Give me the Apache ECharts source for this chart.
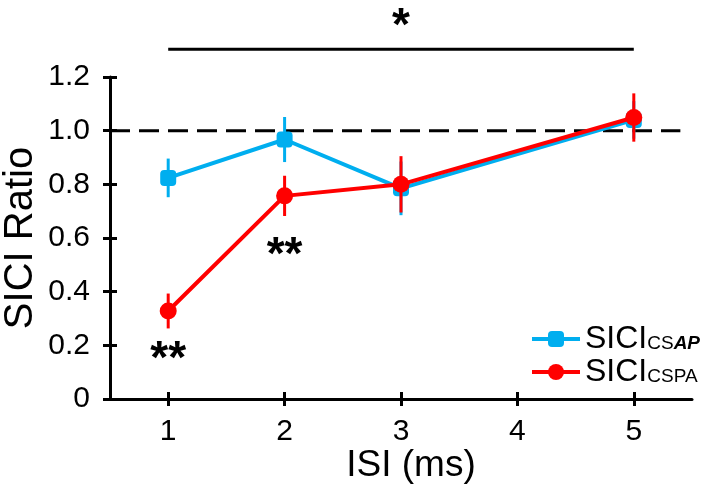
<!DOCTYPE html>
<html>
<head>
<meta charset="utf-8">
<script src="https://cdn.jsdelivr.net/npm/echarts@6/dist/echarts.min.js"></script>
<style>html,body{margin:0;padding:0;background:#fff}#c{width:722px;height:503px}</style>
</head>
<body>
<div id="c"></div>
<script>
// ---- data ----
var isi = [1, 2, 3, 5];
var blueMean = [0.824, 0.967, 0.785, 1.040];
var blueErr  = [0.072, 0.084, 0.100, 0.070];
var redMean  = [0.328, 0.757, 0.800, 1.049];
var redErr   = [0.065, 0.075, 0.105, 0.090];
var xTicks = [1, 2, 3, 4, 5];
var yTicks = [0, 0.2, 0.4, 0.6, 0.8, 1.0, 1.2];
var refLineY = 1.0;
var refLineX = [0.5, 5.4];
var sigBarX = [1, 5];
var sigBarY = 1.3035;
var starX = [1, 2, 3];
var starY = [0.145, 0.533, 1.384];
var starText = ['**', '**', '*'];
var nameBlue = 'SICIcsAP';
var nameRed = 'SICIcsPA';

var FONT = 'Liberation Sans, Arial, Helvetica, sans-serif';
var BLUE = '#00AEEF', RED = '#FF0000';

function pairs(xs, ys) { return xs.map(function (x, i) { return [x, ys[i]]; }); }
function errData(xs, m, e) { return xs.map(function (x, i) { return [x, m[i] - e[i], m[i] + e[i]]; }); }
function errRender(color) {
  return function (params, api) {
    var lo = api.coord([api.value(0), api.value(1)]);
    var hi = api.coord([api.value(0), api.value(2)]);
    return { type: 'line', shape: { x1: lo[0], y1: lo[1], x2: hi[0], y2: hi[1] },
      style: { stroke: color, lineWidth: 3 } };
  };
}

var chart = echarts.init(document.getElementById('c'));
var axisCommonX = { type: 'value', min: 0.5, max: 5.5 };
var axisCommonY = { type: 'value', min: 0, max: 1.2, interval: 0.2 };
chart.setOption({
  animation: false,
  backgroundColor: '#fff',
  grid: { left: 110, right: 30, top: 77, bottom: 104, containLabel: false, outerBoundsMode: 'none' },
  legend: {
    orient: 'vertical', left: 525, top: 318, itemWidth: 48, itemHeight: 20, itemGap: 1,
    data: [nameBlue, nameRed],
    lineStyle: { width: 4 },
    formatter: function (n) { return n === nameBlue ? '{m|SICI}{s|CS}{b|AP}' : '{m|SICI}{s|CSPA}'; },
    textStyle: {
      fontFamily: FONT, color: '#000',
      rich: {
        m: { fontSize: 32, fontFamily: FONT, color: '#000', verticalAlign: 'bottom' },
        s: { fontSize: 19, fontFamily: FONT, color: '#000', verticalAlign: 'bottom', padding: [0, 0, 2, 0] },
        b: { fontSize: 19, fontFamily: FONT, color: '#000', fontWeight: 'bold', fontStyle: 'italic', verticalAlign: 'bottom', padding: [0, 0, 2, 0] }
      }
    }
  },
  xAxis: [
    Object.assign({}, axisCommonX, {
      name: 'ISI (ms)', nameLocation: 'middle', nameGap: 48, nameMoveOverlap: false,
      nameTextStyle: { fontFamily: FONT, fontSize: 37, color: '#000', padding: [0, 0, 0, 20] },
      axisLine: { lineStyle: { color: '#000', width: 3 } },
      axisTick: { show: true, length: 7, lineStyle: { color: '#000', width: 3 }, customValues: xTicks },
      axisLabel: { fontFamily: FONT, fontSize: 30, color: '#000', margin: 18, customValues: xTicks },
      splitLine: { show: false }
    }),
    Object.assign({}, axisCommonX, {
      position: 'bottom',
      axisLine: { show: false },
      axisTick: { show: true, inside: true, length: 7, lineStyle: { color: '#000', width: 3 }, customValues: xTicks },
      axisLabel: { show: false }, splitLine: { show: false }
    })
  ],
  yAxis: [
    Object.assign({}, axisCommonY, {
      name: 'SICI Ratio', nameLocation: 'middle', nameGap: 69, nameRotate: 90, nameMoveOverlap: false,
      nameTextStyle: { fontFamily: FONT, fontSize: 40, color: '#000' },
      axisLine: { show: true, lineStyle: { color: '#000', width: 3 } },
      axisTick: { show: true, length: 7, lineStyle: { color: '#000', width: 3 } },
      axisLabel: { fontFamily: FONT, fontSize: 30, color: '#000', margin: 20,
        formatter: function (v) { return v === 0 ? '0' : v.toFixed(1); } },
      splitLine: { show: false }
    }),
    Object.assign({}, axisCommonY, {
      position: 'left',
      axisLine: { show: false },
      axisTick: { show: true, inside: true, length: 7, lineStyle: { color: '#000', width: 3 } },
      axisLabel: { show: false }, splitLine: { show: false }
    })
  ],
  series: [
    { type: 'line', name: 'ref', data: pairs(refLineX, [refLineY, refLineY]), symbol: 'none', silent: true,
      lineStyle: { color: '#000', width: 3, type: [20, 9] }, z: 1 },
    { type: 'line', name: 'sig', data: pairs(sigBarX, [sigBarY, sigBarY]), symbol: 'none', silent: true, clip: false,
      lineStyle: { color: '#000', width: 3 }, z: 1 },
    { type: 'scatter', name: 'stars', clip: false, silent: true, symbolSize: 0,
      itemStyle: { opacity: 1, color: '#000' },
      data: starX.map(function (x, i) { return { value: [x, starY[i]], label: { formatter: starText[i] } }; }),
      label: { show: true, position: 'inside', fontFamily: FONT, fontSize: 46, fontWeight: 'bold', color: '#000', opacity: 1 } },
    { type: 'custom', name: 'blueErr', renderItem: errRender(BLUE), data: errData(isi, blueMean, blueErr), z: 2, silent: true },
    { type: 'line', name: nameBlue, data: pairs(isi, blueMean), symbol: 'roundRect', symbolSize: 16,
      itemStyle: { color: BLUE }, lineStyle: { color: BLUE, width: 4 }, z: 3 },
    { type: 'custom', name: 'redErr', renderItem: errRender(RED), data: errData(isi, redMean, redErr), z: 4, silent: true },
    { type: 'line', name: nameRed, data: pairs(isi, redMean), symbol: 'circle', symbolSize: 17,
      itemStyle: { color: RED }, lineStyle: { color: RED, width: 4 }, z: 5 }
  ]
});
</script>
</body>
</html>
